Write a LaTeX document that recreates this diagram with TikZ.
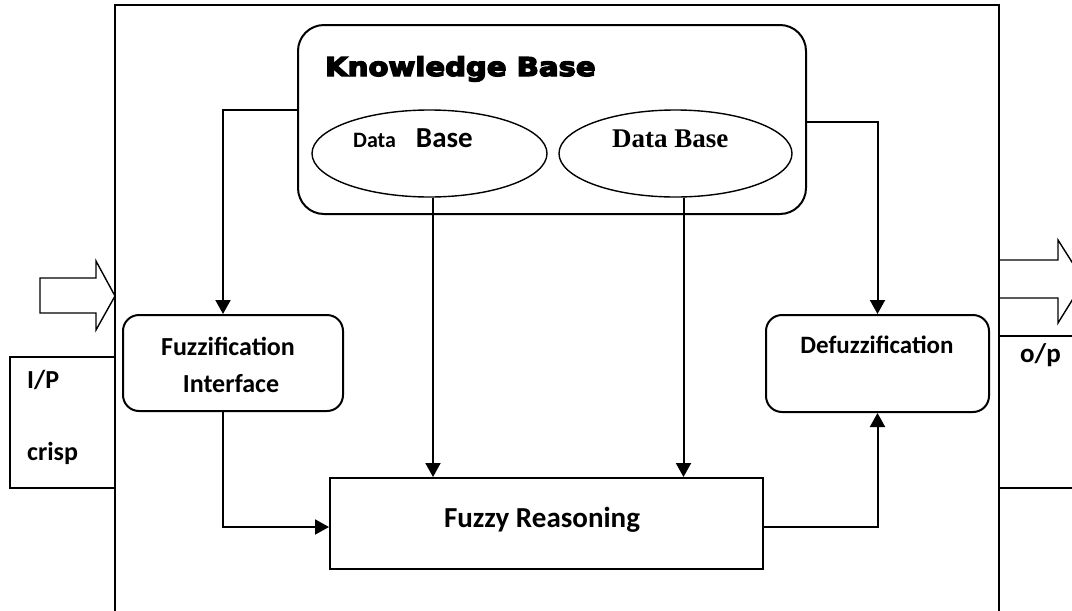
\documentclass[tikz,border=0pt]{standalone}
\usepackage{fontspec}
\setmainfont{Carlito}
\newfontfamily\kbfont[BoldFeatures={FakeBold=5}]{DejaVu Sans}
\newfontfamily\timesfont{Liberation Serif}
\usetikzlibrary{arrows.meta,shapes.geometric}
\newcommand{\fs}[1]{\fontsize{#1}{#1}\selectfont}
\tikzset{
  blk/.style={draw, line width=2pt, inner sep=0pt},
  rbox/.style={blk, rounded corners=16pt},
  ell/.style={draw, ellipse, line width=1.4pt, inner sep=0pt},
  txt/.style={inner sep=0pt, font=\bfseries},
  arr/.style={line width=2pt, -{Triangle[length=14pt,width=15pt]}},
  ln/.style={line width=2pt},
}
\begin{document}
\begin{tikzpicture}[x=1pt, y=-1pt]
\clip (0,0) rectangle (1072,611);
\fill[white] (0,0) rectangle (1072,611);

% system frame, open at the bottom
\draw[line width=2.5pt] (115,611) -- (115,5) -- (999,5) -- (999,611);

% input side
\draw[ln] (10,357) rectangle (115,488);
\node[txt, anchor=base west] (ip) at (27,388) {\fs{26}I/P};
\node[txt, anchor=base west] (crisp) at (27,460) {\fs{26}crisp};
\draw[line width=1.4pt] (40,278) -- (96,278) -- (96,261) -- (115,296) -- (96,330) -- (96,313) -- (40,313) -- cycle;

% output side
\draw[ln] (1080,336) -- (999,336);
\draw[ln] (999,488) -- (1080,488);
\node[txt, anchor=base west] (op) at (1020,362) {\fs{27}o/p};
\draw[line width=1.4pt] (999,260) -- (1058,260) -- (1058,240) -- (1084,281) -- (1058,323) -- (1058,298) -- (999,298);

% knowledge base with its two data bases
\node[rbox, rounded corners=26pt, minimum width=508pt, minimum height=189pt] (KB) at (552,119.5) {};
\node[inner sep=0pt, anchor=base west] (kbt) at (325,76)
  {\kbfont\bfseries\fs{26}\scalebox{1.12}[1]{Knowledge Base}};
\node[ell, minimum width=235pt, minimum height=87pt] (E1) at (429.5,153.5) {};
\node[ell, minimum width=233pt, minimum height=87pt] (E2) at (675.5,153.5) {};
\node[txt, anchor=base west] (e1t) at (353,147) {\fs{22}Data\hspace*{20pt}\fs{29}Base};
\node[inner sep=0pt, anchor=base west] (e2t) at (612,147) {\timesfont\bfseries\fs{27}Data Base};

% processing blocks
\node[rbox, minimum width=220pt, minimum height=96pt] (FI) at (233,363) {};
\node[txt, anchor=base] (fi1) at (228,355) {\fs{26}Fuzzification};
\node[txt, anchor=base] (fi2) at (231,392) {\fs{26}Interface};

\node[rbox, minimum width=223pt, minimum height=97pt] (DF) at (877.5,363.5) {};
\node[txt, anchor=base] (dft) at (877,353) {\fs{25}Defuzzification};

\node[blk, minimum width=433pt, minimum height=91pt] (FR) at (546.5,523.5) {};
\node[txt, anchor=base] (frt) at (542,527) {\fs{29}Fuzzy Reasoning};

% connectors
\draw[arr] ([yshift=9.5pt]KB.west) -| ([xshift=-10pt]FI.north);
\draw[arr] ([yshift=-2.5pt]KB.east) -| (DF.north);
\draw[arr] ([xshift=3.5pt]E1.south) -- ([xshift=3.5pt]E1.south |- FR.north);
\draw[arr] ([xshift=8pt]E2.south) -- ([xshift=8pt]E2.south |- FR.north);
\draw[arr] ([xshift=-10pt]FI.south) |- ([yshift=-3.5pt]FR.west);
\draw[arr] ([yshift=-3.5pt]FR.east) -| (DF.south);
\end{tikzpicture}
\end{document}
